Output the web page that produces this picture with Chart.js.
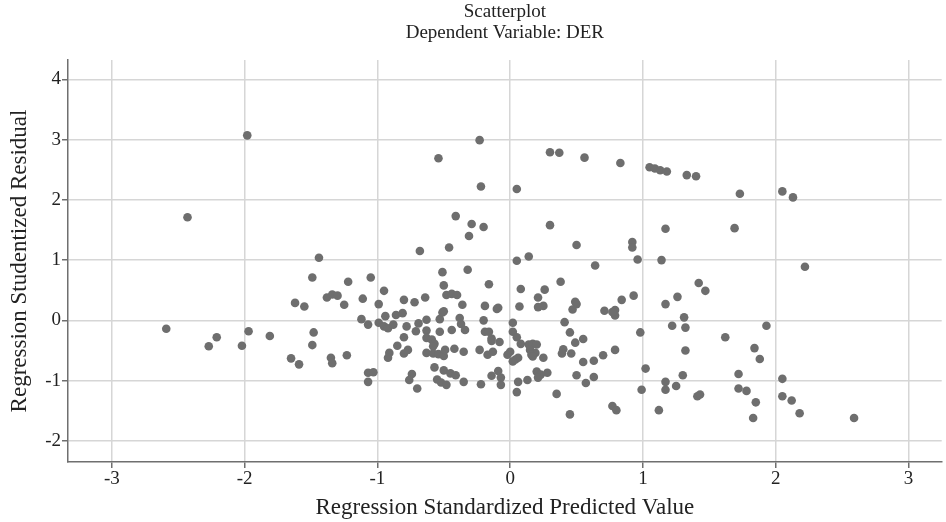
<!DOCTYPE html>
<html>
<head>
<meta charset="utf-8">
<script src="https://cdn.jsdelivr.net/npm/chart.js@4"></script>
<style>
  body { margin: 0; background: #fff; }
  canvas { display: block; }
</style>
</head>
<body>
<canvas id="chart" width="946" height="522"></canvas>
<script>
// --- Data ---
const titleLines = ['Scatterplot', 'Dependent Variable: DER'];
const xTicks = [-3, -2, -1, 0, 1, 2, 3];
const yTicks = [-2, -1, 0, 1, 2, 3, 4];

const xVals = [
  -1.98, -2.43, -0.23, -0.54, -0.22, 0.05, 0.30, 0.37, 0.56, 0.83,
  1.05, 1.09, 1.13, 1.18, 1.33, 1.40, 1.73, 2.05, 2.13, -0.41,
  -0.29, -0.20, -0.31, 0.30, -0.46, -0.68, 0.50, 0.92, 0.92, 1.17,
  1.69, 1.14, 2.22, 0.96, 0.05, 0.14, 0.64,
  -1.44, -1.49, -1.38, -1.34, -1.30, -1.62, -1.55, -2.59, -2.21,
  -1.97, -1.81, -1.48, -2.27, -2.02, -1.49, -1.65, -1.59, -1.35, -1.34, -1.23,
  -1.22, -1.05, -1.25, -1.11, -0.95, -0.99, -0.80, -0.72, -0.64, -0.51,
  -0.50, -0.48, -0.44, -0.40, -0.36, -0.32, -1.12, -1.07, -0.99, -0.95,
  -0.92, -0.88, -0.94, -0.86, -0.81, -0.78, -0.71, -0.69, -0.63, -0.63,
  -0.53, -0.51, -0.50, -0.53, -0.44, -0.38, -0.37, -0.34, -0.80,
  -0.16, 0.08, 0.26, 0.38, 0.21, -0.19, -0.10, -0.09, 0.07, 0.21,
  0.25, 0.49, 0.50, 0.47, 0.71, -0.20, 0.02, 0.41, -0.19, -0.16,
  -0.14, 0.02, 0.05, 0.45, 0.55,
  1.42, 1.47, 0.84, 0.93, 1.17, 1.26, 0.79, 0.79, 0.77, 1.31,
  1.22, 1.32, 1.93, 0.98, 1.62,
  -1.07, -1.03, -1.07, -0.91, -0.92, -0.85, -0.80, -0.77, -0.74, -0.76,
  -0.70, -0.63, -0.59, -0.57, -0.58, -0.63, -0.58, -0.54, -0.50, -0.49,
  -0.42, -0.35, -0.57, -0.50, -0.45, -0.41, -0.55, -0.52, -0.48, -0.35,
  -0.14, -0.08, -0.23, -0.17, -0.13, 0.08, 0.00, -0.02, 0.04, 0.06,
  0.02, 0.14, 0.17, 0.20, 0.15, 0.19, 0.16, 0.17, 0.25, 0.20,
  0.23, 0.28, 0.21, 0.35, 0.40, 0.39, 0.46, 0.49, 0.55, 0.63,
  0.70, 0.50, 0.63, 0.57, -0.22, -0.07, -0.14, -0.09, -0.07, 0.06,
  0.13, 0.05,
  0.79, 1.32, 1.84, 1.88, 1.02, 1.30, 1.72, 2.05, 1.17, 1.17,
  1.25, 0.99, 1.41, 1.43, 1.72, 1.78, 1.85, 2.05, 2.12, 0.77,
  0.80, 1.12, 0.45, 1.83, 2.18, 2.59
];

const yVals = [
  3.07, 1.71, 2.99, 2.69, 2.22, 2.18, 2.79, 2.78, 2.70, 2.61,
  2.54, 2.52, 2.49, 2.47, 2.41, 2.39, 2.10, 2.14, 2.04, 1.73,
  1.60, 1.55, 1.40, 1.58, 1.21, 1.15, 1.25, 1.30, 1.21, 1.52,
  1.53, 1.00, 0.89, 1.01, 0.99, 1.06, 0.91,
  1.04, 0.71, 0.38, 0.43, 0.41, 0.29, 0.23, -0.14, -0.28,
  -0.18, -0.26, -0.20, -0.43, -0.42, -0.41, -0.63, -0.73, -0.62, -0.71, -0.58,
  0.64, 0.71, 0.26, 0.36, 0.49, 0.27, 0.34, 0.30, 0.38, 0.80,
  0.58, 0.42, 0.44, 0.42, 0.26, 0.84, 0.02, -0.07, -0.04, -0.10,
  -0.13, -0.07, 0.07, 0.09, 0.12, -0.10, -0.18, -0.05, 0.01, -0.17,
  0.02, 0.13, 0.15, -0.19, -0.16, 0.04, -0.06, -0.16, -0.28,
  0.60, 0.52, 0.51, 0.64, 0.38, 0.24, 0.19, 0.21, 0.23, 0.22,
  0.24, 0.31, 0.27, 0.18, 0.16, 0.00, -0.04, -0.03, -0.19, -0.19,
  -0.30, -0.19, -0.28, -0.20, -0.31,
  0.62, 0.49, 0.34, 0.41, 0.27, 0.39, 0.17, 0.08, 0.14, 0.05,
  -0.09, -0.12, -0.09, -0.20, -0.28,
  -0.87, -0.86, -1.02, -0.54, -0.62, -0.42, -0.55, -0.49, -0.89, -0.99,
  -1.13, -0.29, -0.32, -0.39, -0.43, -0.54, -0.55, -0.56, -0.59, -0.49,
  -0.47, -0.52, -0.78, -0.83, -0.88, -0.91, -0.98, -1.03, -1.07, -1.02,
  -0.34, -0.36, -0.49, -0.57, -0.52, -0.39, -0.52, -0.57, -0.65, -0.62,
  -0.68, -0.40, -0.39, -0.40, -0.49, -0.54, -0.57, -0.60, -0.62, -0.85,
  -0.90, -0.87, -0.95, -1.22, -0.48, -0.55, -0.55, -0.37, -0.69, -0.67,
  -0.58, -0.91, -0.94, -1.04, -1.06, -1.07, -0.92, -0.84, -0.95, -1.02,
  -0.99, -1.19,
  -0.49, -0.50, -0.46, -0.64, -0.80, -0.91, -0.89, -0.97, -1.02, -1.15,
  -1.09, -1.15, -1.26, -1.23, -1.13, -1.17, -1.36, -1.26, -1.33, -1.42,
  -1.49, -1.49, -1.56, -1.62, -1.54, -1.62
];

const points = xVals.map((x, i) => ({ x: x, y: yVals[i] }));

const serif = "'Liberation Serif', 'Times New Roman', serif";
const gridColor = '#d6d6d6';
const axisColor = '#6f6f6f';
const textColor = '#222';

// title centred over the plot area (SPSS style), not over the whole canvas
const plotTitle = {
  id: 'plotTitle',
  afterDraw(chart) {
    const { ctx, chartArea } = chart;
    const cx = (chartArea.left + chartArea.right) / 2;
    ctx.save();
    ctx.fillStyle = textColor;
    ctx.font = '19px ' + serif;
    ctx.textAlign = 'center';
    ctx.textBaseline = 'middle';
    ctx.fillText(titleLines[0], cx, 12);
    ctx.fillText(titleLines[1], cx, 33);
    ctx.restore();
  }
};

new Chart(document.getElementById('chart'), {
  type: 'scatter',
  data: {
    datasets: [{
      data: points,
      backgroundColor: '#6e6e6e',
      borderWidth: 0,
      pointRadius: 4.3,
      pointHoverRadius: 4.3
    }]
  },
  options: {
    responsive: false,
    devicePixelRatio: 1,
    animation: false,
    layout: { padding: { top: 60, right: 2, bottom: 0, left: 0 } },
    plugins: {
      legend: { display: false },
      tooltip: { enabled: false },
      title: { display: false }
    },
    scales: {
      x: {
        type: 'linear',
        min: -3.33,
        max: 3.25,
        afterBuildTicks: s => { s.ticks = xTicks.map(v => ({ value: v })); },
        afterFit: s => { s.height = 60; },
        grid: { color: gridColor, lineWidth: 1.5, tickLength: 6, tickColor: axisColor },
        border: { color: axisColor, width: 1.5 },
        ticks: { color: textColor, font: { family: serif, size: 19 }, padding: 0 },
        title: {
          display: true,
          text: 'Regression Standardized Predicted Value',
          color: textColor,
          font: { family: serif, size: 23 },
          padding: { top: 0, bottom: 0 }
        }
      },
      y: {
        type: 'linear',
        min: -2.35,
        max: 4.32,
        afterBuildTicks: s => { s.ticks = yTicks.map(v => ({ value: v })); },
        afterFit: s => { s.width = 68; },
        grid: { color: gridColor, lineWidth: 1.5, tickLength: 6, tickColor: axisColor },
        border: { color: axisColor, width: 1.5 },
        ticks: { color: textColor, font: { family: serif, size: 19 }, padding: 1 },
        title: {
          display: true,
          text: 'Regression Studentized Residual',
          color: textColor,
          font: { family: serif, size: 23 },
          padding: { top: 6, bottom: 0 }
        }
      }
    }
  },
  plugins: [plotTitle]
});
</script>
</body>
</html>
